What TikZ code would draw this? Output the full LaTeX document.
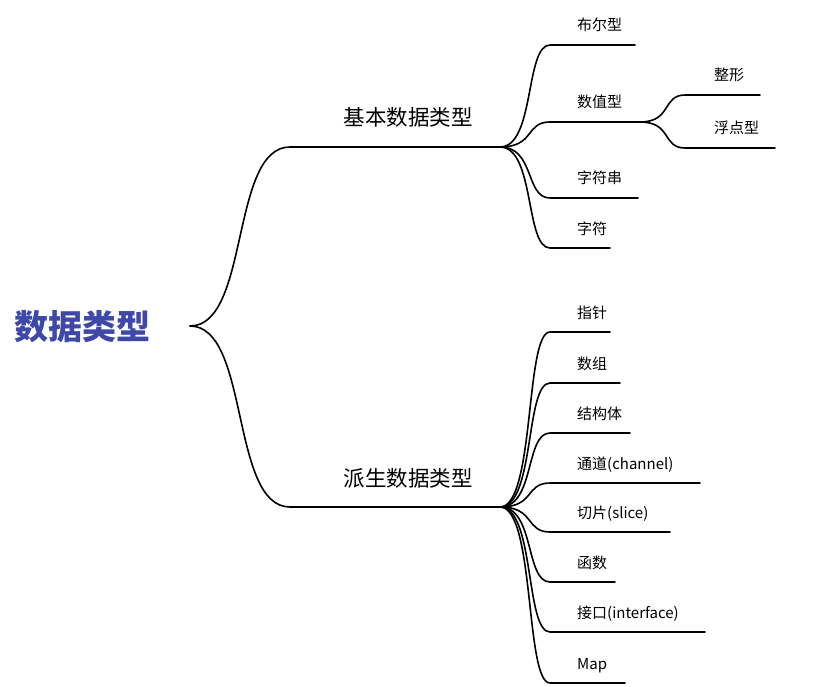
\documentclass[tikz,border=0pt]{standalone}
\usepackage{fontspec}
\setmainfont{Noto Sans CJK SC}
\definecolor{rootc}{RGB}{62,72,168}
\begin{document}
\begin{tikzpicture}[x=1pt,y=-1pt,
  edge/.style={line width=1.6pt,line cap=round},
  lbl/.style={anchor=base west,inner sep=0,font=\fontsize{15}{15}\selectfont},
  mid/.style={anchor=base,inner sep=0,font=\fontsize{21.5}{21.5}\selectfont}]
\useasboundingbox (0,0) rectangle (824,687);
\node[anchor=base west,inner sep=0,text=rootc,font=\fontsize{34}{34}\selectfont\bfseries] (root) at (14,339) {数据类型};
\coordinate (r) at (190,326);
% level 1
\coordinate (b0) at (290,147); \coordinate (b1) at (500,147);
\coordinate (d0) at (290,507); \coordinate (d1) at (500,507);
\node[mid] (bt) at (408,126) {基本数据类型};
\node[mid] (dt) at (408,486) {派生数据类型};
\draw[edge] (r) .. controls (250,326) and (230,147) .. (b0) -- (b1);
\draw[edge] (r) .. controls (250,326) and (230,507) .. (d0) -- (d1);
% basic children
\foreach \n/\y/\e/\t in {a/45/635/布尔型, b/122/640/数值型, c/198/638/字符串, d/248/610/字符}{
  \coordinate (s\n) at (550,\y); \coordinate (e\n) at (\e,\y);
  \node[lbl] (t\n) at (577,\y-14) {\t};
  \draw[edge] (b1) .. controls (535,147) and (525,\y) .. (s\n) -- (e\n);
}
\foreach \n/\y/\e/\t in {f/95/760/整形, g/148/775/浮点型}{
  \coordinate (s\n) at (685,\y); \coordinate (e\n) at (\e,\y);
  \node[lbl] (t\n) at (714,\y-14) {\t};
  \draw[edge] (eb) .. controls (672,122) and (662,\y) .. (s\n) -- (e\n);
}
% derived children
\foreach \n/\y/\e/\t in {h/332/610/指针, i/383/620/数组, j/433/630/结构体, k/483/700/通道(channel), l/532/670/切片(slice), m/582/615/函数, n/632/705/接口(interface), o/683/625/Map}{
  \coordinate (s\n) at (550,\y); \coordinate (e\n) at (\e,\y);
  \node[lbl] (t\n) at (577,\y-14) {\t};
  \draw[edge] (d1) .. controls (535,507) and (525,\y) .. (s\n) -- (e\n);
}
\end{tikzpicture}
\end{document}
